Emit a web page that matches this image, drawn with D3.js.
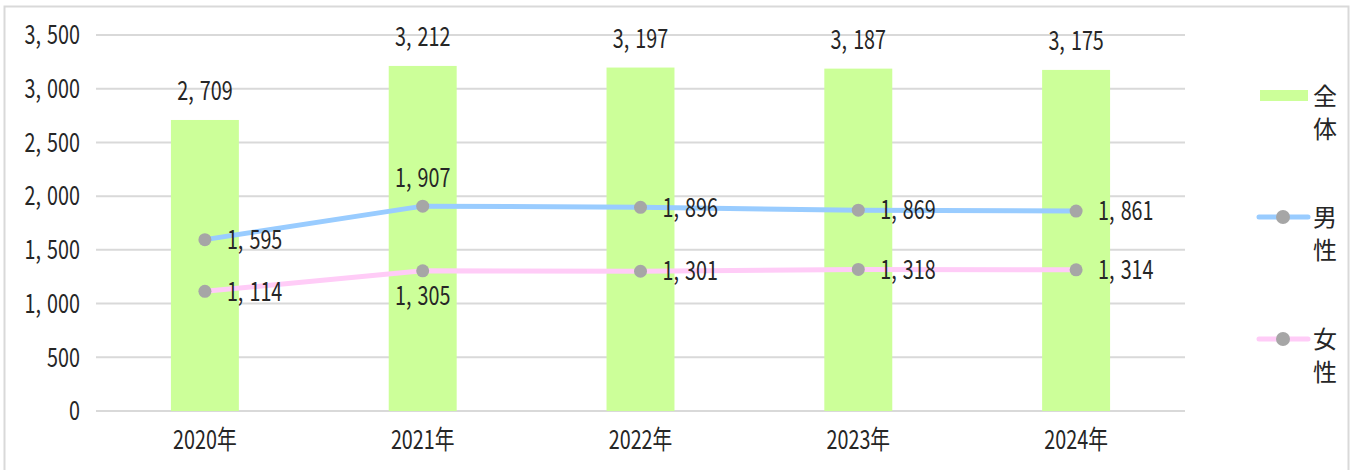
<!DOCTYPE html>
<html><head><meta charset="utf-8">
<script src="https://cdn.jsdelivr.net/npm/d3@7"></script>
<style>html,body{margin:0;padding:0;background:#fff;}svg{display:block;}</style>
</head><body>
<svg id="chart" width="1354" height="470"></svg>
<script>
const categories = ["2020年", "2021年", "2022年", "2023年", "2024年"];
const totalValues = [2709, 3212, 3197, 3187, 3175];
const maleValues = [1595, 1907, 1896, 1869, 1861];
const femaleValues = [1114, 1305, 1301, 1318, 1314];
const yTicks = [0, 500, 1000, 1500, 2000, 2500, 3000, 3500];
const seriesNames = ["全体", "男性", "女性"];

const svg = d3.select("#chart");
const FONT = "'Noto Sans CJK JP', 'Noto Sans', sans-serif";
const SX = 0.76, FS = 26, DY = -3;
const fmt = d3.format(",");

svg.append("rect").attr("x", 4.5).attr("y", 6.5).attr("width", 1344).attr("height", 480)
  .attr("fill", "none").attr("stroke", "#d9d9d9").attr("stroke-width", 2);

const x = d3.scaleBand().domain(categories).range([96, 1185]).paddingInner(0.688).paddingOuter(0.344);
const y = d3.scaleLinear().domain([0, 3500]).range([411, 35]);
const cx = c => x(c) + x.bandwidth() / 2;

function label(g, px, py, str, anchor) {
  const t = g.append("text")
    .attr("transform", `translate(${px},${py + DY}) scale(${SX},1)`)
    .attr("text-anchor", anchor).attr("dominant-baseline", "central")
    .attr("font-family", FONT).attr("font-size", FS).attr("fill", "#262626");
  const parts = str.split(",");
  parts.forEach((p, i) => {
    if (i === 0) t.append("tspan").text(p);
    else { t.append("tspan").text(","); t.append("tspan").attr("dx", 8).text(p); }
  });
  return t;
}

// grid
const grid = svg.append("g");
grid.selectAll("line").data(yTicks).join("line")
  .attr("x1", 96).attr("x2", 1185).attr("y1", d => y(d)).attr("y2", d => y(d))
  .attr("stroke", "#d9d9d9").attr("stroke-width", 2);

// y tick labels
const yl = svg.append("g");
yTicks.forEach(t => label(yl, 80, y(t) + 1, fmt(t), "end"));

// x labels
const xl = svg.append("g");
categories.forEach(c => label(xl, cx(c), 441, c, "middle"));

// bars
svg.append("g").selectAll("rect").data(totalValues).join("rect")
  .attr("x", (d, i) => x(categories[i])).attr("width", x.bandwidth())
  .attr("y", d => y(d)).attr("height", d => y(0) - y(d)).attr("fill", "#ccff99");

// lines
const line = d3.line().x((d, i) => cx(categories[i])).y(d => y(d));
svg.append("path").datum(maleValues).attr("d", line).attr("fill", "none")
  .attr("stroke", "#99ccff").attr("stroke-width", 5);
svg.append("path").datum(femaleValues).attr("d", line).attr("fill", "none")
  .attr("stroke", "#ffccf7").attr("stroke-width", 5);

[maleValues, femaleValues].forEach(vals => {
  svg.append("g").selectAll("circle").data(vals).join("circle")
    .attr("cx", (d, i) => cx(categories[i])).attr("cy", d => y(d)).attr("r", 6.5)
    .attr("fill", "#a6a6a6");
});

// data labels
const dl = svg.append("g");
totalValues.forEach((v, i) => label(dl, cx(categories[i]), y(v) - 28, fmt(v), "middle"));
const malePos = ["right", "top", "right", "right", "right"];
const femalePos = ["right", "bottom", "right", "right", "right"];
function placed(vals, pos) {
  vals.forEach((v, i) => {
    const px = cx(categories[i]), py = y(v);
    if (pos[i] === "right") label(dl, px + 22, py + 1, fmt(v), "start");
    else if (pos[i] === "top") label(dl, px, py - 27, fmt(v), "middle");
    else label(dl, px, py + 26, fmt(v), "middle");
  });
}
placed(maleValues, malePos);
placed(femaleValues, femalePos);

// legend
const lg = svg.append("g");
function stackText(xp, yp, s) {
  s.split("").forEach((ch, k) => {
    lg.append("text").attr("x", xp).attr("y", yp + k * 33).attr("dominant-baseline", "central")
      .attr("font-family", FONT).attr("font-size", 24).attr("fill", "#262626").text(ch);
  });
}
lg.append("rect").attr("x", 1260).attr("y", 90).attr("width", 48).attr("height", 11).attr("fill", "#ccff99");
stackText(1313, 94, seriesNames[0]);
[[217, "#99ccff", seriesNames[1]], [339, "#ffccf7", seriesNames[2]]].forEach(([ly, col, name]) => {
  lg.append("line").attr("x1", 1259).attr("x2", 1308).attr("y1", ly).attr("y2", ly)
    .attr("stroke", col).attr("stroke-width", 5).attr("stroke-linecap", "round");
  lg.append("circle").attr("cx", 1283).attr("cy", ly).attr("r", 7).attr("fill", "#a6a6a6");
  stackText(1313, ly - 2, name);
});
</script>
</body></html>
